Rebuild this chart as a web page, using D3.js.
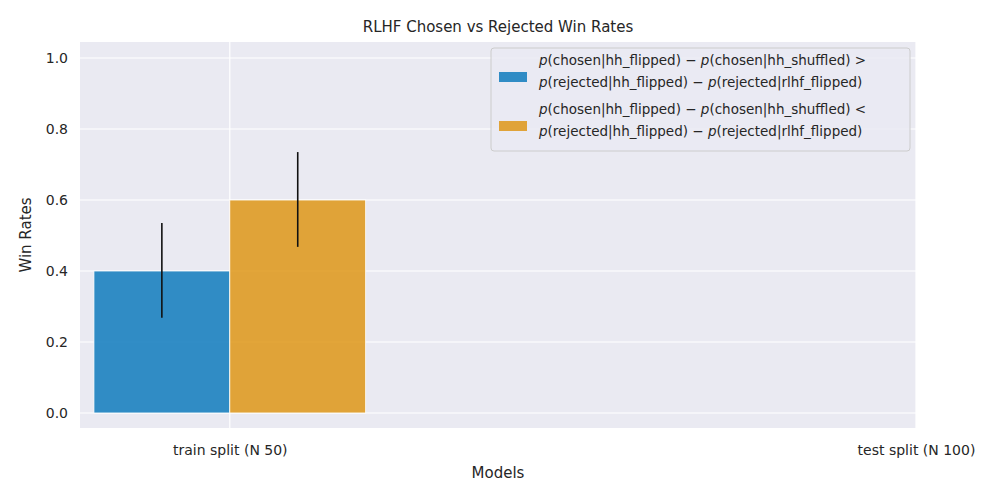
<!DOCTYPE html>
<html><head><meta charset="utf-8">
<script src="https://cdn.jsdelivr.net/npm/d3@7"></script>
<style>body{margin:0;background:#fff}text{font-family:"DejaVu Sans",sans-serif}</style>
</head><body><svg width="1000" height="500"></svg>
<script>
var categories = ["train split (N 50)", "test split (N 100)"];
var seriesNames = ["greater", "less"];
var winRates = [[0.40, null], [0.60, null]];
var errLow = [[0.268, null], [0.468, null]];
var errHigh = [[0.535, null], [0.735, null]];
var yTicks = [0.0, 0.2, 0.4, 0.6, 0.8, 1.0];
var colors = ["rgba(20,125,190,0.87)", "rgba(222,150,24,0.85)"];

var svg = d3.select("svg");
var L = 80, R = 916, T = 42, B = 428;
var x = d3.scaleLinear().domain([-0.2183, 1]).range([L, R]);
var y = d3.scaleLinear().domain([-0.0423, 1.0451]).range([B, T]);
var barW = x(0.198) - x(0);

svg.append("rect").attr("x", L).attr("y", T).attr("width", R - L).attr("height", B - T).attr("fill", "#eaeaf2");
var g = svg.append("g");
yTicks.forEach(function(t) {
  g.append("line").attr("x1", L).attr("x2", R).attr("y1", y(t)).attr("y2", y(t)).attr("stroke", "#fff").attr("stroke-width", 1.2);
  g.append("text").attr("x", L - 12).attr("y", y(t)).attr("dy", "0.35em").attr("text-anchor", "end").attr("font-size", 14).attr("fill", "#262626").text(t.toFixed(1));
});
categories.forEach(function(c, i) {
  g.append("line").attr("x1", x(i)).attr("x2", x(i)).attr("y1", T).attr("y2", B).attr("stroke", "#fff").attr("stroke-width", 1.2);
  g.append("text").attr("x", x(i) + 0.5).attr("y", B + 27).attr("text-anchor", "middle").attr("font-size", 14).attr("fill", "#262626").text(c);
});

seriesNames.forEach(function(s, si) {
  categories.forEach(function(c, ci) {
    var v = winRates[si][ci];
    if (v == null) return;
    var x0 = si == 0 ? x(ci) - barW : x(ci);
    g.append("rect").attr("x", x0).attr("y", y(v)).attr("width", barW).attr("height", y(0) - y(v))
      .attr("fill", colors[si]).attr("stroke", "#fff").attr("stroke-width", 0.8);
    g.append("line").attr("x1", x0 + barW / 2).attr("x2", x0 + barW / 2)
      .attr("y1", y(errLow[si][ci])).attr("y2", y(errHigh[si][ci])).attr("stroke", "#111").attr("stroke-width", 1.6);
  });
});

svg.append("text").attr("x", 498).attr("y", 32).attr("text-anchor", "middle").attr("font-size", 15).attr("fill", "#262626").text("RLHF Chosen vs Rejected Win Rates");
svg.append("text").attr("x", 498).attr("y", 478).attr("text-anchor", "middle").attr("font-size", 15).attr("fill", "#262626").text("Models");
svg.append("text").attr("transform", "translate(31," + ((T + B) / 2) + ") rotate(-90)").attr("text-anchor", "middle").attr("font-size", 15).attr("fill", "#262626").text("Win Rates");

// legend
var lg = svg.append("g").attr("transform", "translate(491,48)");
lg.append("rect").attr("width", 419).attr("height", 103).attr("rx", 3).attr("fill", "#eaeaf2").attr("fill-opacity", 0.8).attr("stroke", "#cccccc");
var lines = [
  [["p", "(chosen|hh_flipped) − "], ["p", "(chosen|hh_shuffled) >"]],
  [["p", "(rejected|hh_flipped) − "], ["p", "(rejected|rlhf_flipped)"]],
  [["p", "(chosen|hh_flipped) − "], ["p", "(chosen|hh_shuffled) <"]],
  [["p", "(rejected|hh_flipped) − "], ["p", "(rejected|rlhf_flipped)"]]
];
colors.forEach(function(col, i) {
  lg.append("rect").attr("x", 8).attr("y", 24 + i * 49).attr("width", 28).attr("height", 10).attr("fill", col);
});
lines.forEach(function(parts, i) {
  var t = lg.append("text").attr("x", 48).attr("y", 17 + i * 22 + (i >= 2 ? 5 : 0)).attr("font-size", 13.5).attr("fill", "#262626");
  parts.forEach(function(p) {
    t.append("tspan").attr("font-style", "italic").text(p[0]);
    t.append("tspan").text(p[1]);
  });
});
</script></body></html>
